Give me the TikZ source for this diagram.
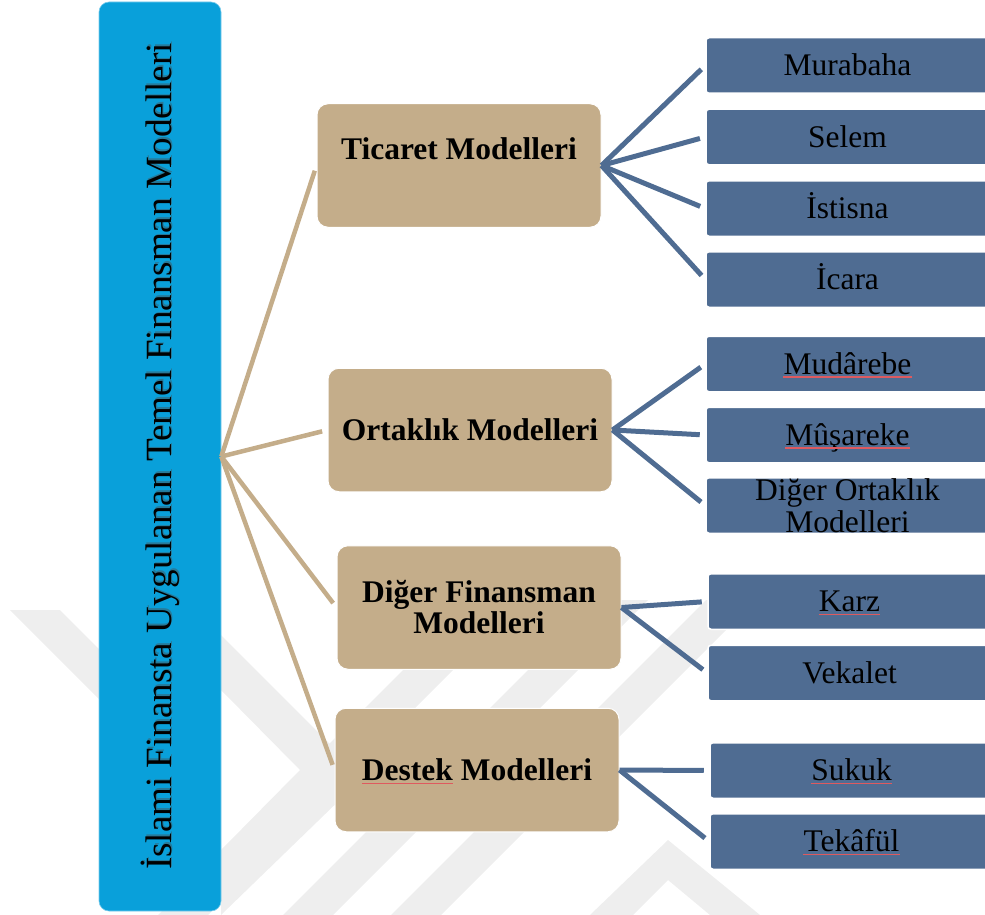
\documentclass[tikz,border=0pt]{standalone}
\usepackage{fontspec}
\setmainfont{Liberation Serif}
\usetikzlibrary{calc}

\definecolor{titleblue}{RGB}{9,160,218}
\definecolor{tanfill}{RGB}{196,173,138}
\definecolor{slate}{RGB}{79,108,146}
\definecolor{wmgray}{RGB}{238,238,238}
\definecolor{spellred}{RGB}{222,90,95}

\tikzset{
  titlebox/.style={fill=titleblue, draw=titleblue!55!white, line width=0.6pt,
    rounded corners=10pt, minimum width=122pt, minimum height=909pt, inner sep=0pt},
  titletext/.style={rotate=90, inner sep=0pt, font=\fontsize{37}{40}\selectfont},
  groupbox/.style={fill=tanfill, draw=white, line width=1pt, rounded corners=11pt,
    minimum width=284pt, minimum height=123.5pt, inner sep=0pt, align=center,
    font=\fontsize{31.5}{31}\selectfont\bfseries},
  grouptext/.style={inner sep=0pt, text height=21.5pt, text depth=0pt,
    font=\fontsize{31.5}{31}\selectfont\bfseries},
  itembox/.style={fill=slate, draw=white, line width=1.5pt, rounded corners=3pt,
    minimum width=283pt, minimum height=55.5pt, inner sep=0pt, align=center,
    text height=20pt, text depth=0pt, font=\fontsize{31.5}{32}\selectfont},
  itembox2/.style={itembox, text height=, text depth=},
  itemtext/.style={inner sep=0pt, text height=20pt, text depth=0pt,
    font=\fontsize{31.5}{32}\selectfont},
  spellline/.style={draw=spellred, line width=1.2pt},
  tanline/.style={draw=tanfill, line width=4.5pt, shorten >=5.5pt},
  slateline/.style={draw=slate, line width=5pt, shorten >=5.5pt},
  wmband/.style={fill=wmgray, draw=none},
}

\begin{document}
\begin{tikzpicture}[x=1pt, y=-1pt]
\useasboundingbox (0,0) rectangle (985,915);

% faint background emblem in the lower half
\begin{scope}
  \clip (0,600) rectangle (985,915);
  \fill[wmband] (10,610) -- (60,610) -- (120,670) -- (120,720) -- cycle;
  \fill[wmband] (221,635) -- (335,749) -- (350,790) -- (221,915) -- (221,850) -- (300,770) -- (221,690) -- cycle;
  \fill[wmband] (473,600) -- (523,600) -- (208,915) -- (158,915) -- cycle;
  \fill[wmband] (598,600) -- (648,600) -- (333,915) -- (283,915) -- cycle;
  \fill[wmband] (706,600) -- (756,600) -- (441,915) -- (391,915) -- cycle;
  \fill[wmband] (668,840) -- (760,915) -- (710,915) -- (668,880) -- (633,915) -- (590,915) -- cycle;
\end{scope}

% title column
\node[titlebox] (main) at (160,456.5) {};
\node[titletext, text=black!70, opacity=0.45, xshift=1.6pt, yshift=-1.6pt] (titleshadow) at (main.center)
  {İslami Finansta Uygulanan Temel Finansman Modelleri};
\node[titletext] (title) at (main.center)
  {İslami Finansta Uygulanan Temel Finansman Modelleri};

% model groups
\node[groupbox, text depth=34pt] (tic) at (459,165.5) {Ticaret Modelleri};
\node[groupbox] (ort) at (470,430) {Ortaklık Modelleri};
\node[groupbox] (dig) at (479,607.5) {Diğer Finansman\\Modelleri};
\node[groupbox] (des) at (477,770) {};
\node[grouptext] (destext) at (des.center) {Destek Modelleri};

% individual models
\node[itembox] (mur) at (847.5,65.5) {Murabaha};
\node[itembox] (sel) at (847.5,137) {Selem};
\node[itembox] (ist) at (847.5,208.5) {İstisna};
\node[itembox] (ica) at (847.5,279.5) {İcara};
\node[itembox] (mud) at (847.5,364) {};
\node[itemtext] (mudtext) at (mud.center) {Mudârebe};
\node[itembox] (mus) at (847.5,435) {};
\node[itemtext] (mustext) at (mus.center) {Mûşareke};
\node[itembox2] (dor) at (847.5,505.5) {Diğer Ortaklık\\Modelleri};
\node[itembox] (kar) at (849.5,601.5) {};
\node[itemtext] (kartext) at (kar.center) {Karz};
\node[itembox] (vek) at (849.5,673) {Vekalet};
\node[itembox] (suk) at (851.5,770.5) {};
\node[itemtext] (suktext) at (suk.center) {Sukuk};
\node[itembox] (tek) at (851.5,841.5) {};
\node[itemtext] (tektext) at (tek.center) {Tekâfül};

% red proofing marks under flagged words
\foreach \w in {mudtext,mustext,kartext,suktext,tektext}
  \draw[spellline] ([yshift=-3pt]\w.base west) -- ([yshift=-3pt]\w.base east);
\draw[spellline] ([yshift=-3pt]destext.base west) -- ++(91,0);

% connectors from the title column
\foreach \g in {tic,ort,dig,des}
  \draw[tanline] (main.east) -- (\g.west);

% connectors from each group
\foreach \i in {mur,sel,ist,ica}
  \draw[slateline] (tic.east) -- (\i.west);
\foreach \i in {mud,mus,dor}
  \draw[slateline] (ort.east) -- (\i.west);
\foreach \i in {kar,vek}
  \draw[slateline] (dig.east) -- (\i.west);
\foreach \i in {suk,tek}
  \draw[slateline] (des.east) -- (\i.west);
\end{tikzpicture}
\end{document}
